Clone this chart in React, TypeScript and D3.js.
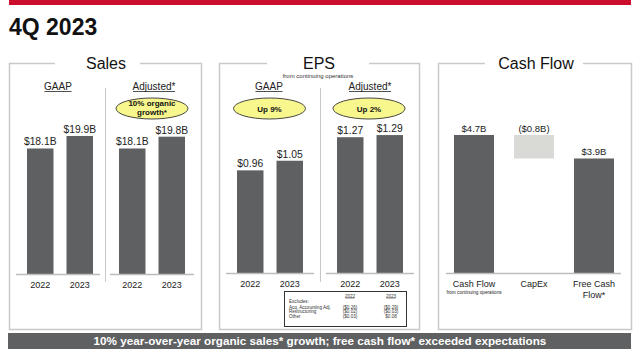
import React from "react";
import * as d3 from "d3";

const years = ["2022", "2023"];
const salesGaap = [18.1, 19.9];
const salesAdjusted = [18.1, 19.8];
const salesGaapLabels = ["$18.1B", "$19.9B"];
const salesAdjLabels = ["$18.1B", "$19.8B"];
const epsGaap = [0.96, 1.05];
const epsAdjusted = [1.27, 1.29];
const epsGaapLabels = ["$0.96", "$1.05"];
const epsAdjLabels = ["$1.27", "$1.29"];
const cashCategories = ["Cash Flow", "CapEx", "Free Cash Flow*"];
const cashValues = [4.7, -0.8, 3.9];
const cashLabels = ["$4.7B", "($0.8B)", "$3.9B"];
const excludeRows = ["Acq. Accounting Adj.", "Restructuring", "Other"];
const exclude2022 = ["($0.26)", "($0.02)", "($0.03)"];
const exclude2023 = ["($0.29)", "($0.03)", "$0.08"];

const FONT = "'Liberation Sans', Arial, Helvetica, sans-serif";
const BAR = "#5f6062";
const LIGHT = "#d9d9d6";
const BORDER = "#c9c9c9";
const RED = "#cc0e2d";
const OVAL = "#f7f78e";

type GroupProps = {
  values: number[];
  labels: string[];
  x0: number;
  x1: number;
  y: d3.ScaleLinear<number, number>;
  baseX0: number;
  baseX1: number;
};

function BarGroup({ values, labels, x0, x1, y, baseX0, baseX1 }: GroupProps) {
  const x = d3.scaleBand<string>().domain(years).range([x0, x1]).paddingInner(0.33).paddingOuter(0);
  const base = y(0);
  return (
    <g>
      {years.map((yr, i) => (
        <g key={yr}>
          <rect x={x(yr)} y={y(values[i])} width={x.bandwidth()} height={base - y(values[i])} fill={BAR} />
          <text x={(x(yr) as number) + x.bandwidth() / 2} y={y(values[i]) - 3} textAnchor="middle" fontSize={10.3} fill="#222">
            {labels[i]}
          </text>
          <text x={(x(yr) as number) + x.bandwidth() / 2} y={base + 14} textAnchor="middle" fontSize={9} fill="#222">
            {yr}
          </text>
        </g>
      ))}
      <line x1={baseX0} x2={baseX1} y1={base + 0.5} y2={base + 0.5} stroke="#bdbdbd" strokeWidth={1.5} />
    </g>
  );
}

function Panel({ x0, x1, gap0, gap1, title, cx }: { x0: number; x1: number; gap0: number; gap1: number; title: string; cx: number }) {
  const top = 63.5;
  const bottom = 329.5;
  return (
    <g>
      <path
        d={`M${gap0},${top} H${x0 + 0.5} V${bottom} H${x1 - 0.5} V${top} H${gap1}`}
        fill="none"
        stroke={BORDER}
        strokeWidth={1.5}
      />
      <text x={cx} y={69} textAnchor="middle" fontSize={16} fill="#111">
        {title}
      </text>
    </g>
  );
}

function Header({ x, text }: { x: number; text: string }) {
  const w = text === "GAAP" ? 27 : 42;
  return (
    <g>
      <text x={x} y={90} textAnchor="middle" fontSize={10} fill="#222">
        {text}
      </text>
      <line x1={x - w / 2} x2={x + w / 2} y1={91.5} y2={91.5} stroke="#222" strokeWidth={0.8} />
    </g>
  );
}

function Oval({ cx, lines }: { cx: number; lines: string[] }) {
  return (
    <g>
      <ellipse cx={cx} cy={108.5} rx={36} ry={10.5} fill={OVAL} stroke="#333" strokeWidth={0.9} />
      {lines.map((l, i) => (
        <text
          key={i}
          x={cx}
          y={lines.length === 1 ? 111.5 : 106 + i * 9}
          textAnchor="middle"
          fontSize={8}
          fontWeight="bold"
          fill="#111"
        >
          {l}
        </text>
      ))}
    </g>
  );
}

export default function App() {
  const ySales = d3.scaleLinear().domain([0, 19.9]).range([274, 136]);
  const yEps = d3.scaleLinear().domain([0, 1.3]).range([273, 134]);
  const yCash = d3.scaleLinear().domain([0, 4.7]).range([273, 135]);
  const xCash = d3.scaleBand<string>().domain(cashCategories).range([454, 614]).paddingInner(0.333).paddingOuter(0);

  // waterfall for cash flow
  let running = 0;
  const cashBars = cashValues.map((v, i) => {
    let lo: number, hi: number;
    if (i === cashValues.length - 1) {
      lo = 0;
      hi = v;
    } else if (v >= 0) {
      lo = running;
      hi = running + v;
      running += v;
    } else {
      hi = running;
      lo = running + v;
      running += v;
    }
    return { cat: cashCategories[i], lo, hi, neg: v < 0, label: cashLabels[i] };
  });

  return (
    <svg
      width={640}
      height={356}
      style={{ position: "absolute", left: 0, top: 0, background: "#fff" }}
      fontFamily={FONT}
    >
      <rect x={0} y={0} width={640} height={356} fill="#fff" />
      <rect x={9} y={0} width={622} height={5} fill={RED} />
      <text x={9} y={35} fontSize={23} fontWeight="bold" fill="#111">
        4Q 2023
      </text>

      <Panel x0={9} x1={202} gap0={55} gap1={140} title="Sales" cx={106} />
      <Panel x0={219} x1={420} gap0={267} gap1={369} title="EPS" cx={319} />
      <Panel x0={438} x1={632} gap0={485} gap1={583} title="Cash Flow" cx={536} />

      <text x={318} y={78} textAnchor="middle" fontSize={6} fill="#333">
        from continuing operations
      </text>

      {/* dividers */}
      <line x1={105.5} x2={105.5} y1={88} y2={282} stroke={BORDER} strokeWidth={1} />
      <line x1={320.5} x2={320.5} y1={88} y2={282} stroke={BORDER} strokeWidth={1} />

      <Header x={58} text="GAAP" />
      <Header x={154} text="Adjusted*" />
      <Header x={269} text="GAAP" />
      <Header x={370} text="Adjusted*" />

      <Oval cx={152} lines={["10% organic", "growth*"]} />
      <Oval cx={269.5} lines={["Up 9%"]} />
      <Oval cx={369} lines={["Up 2%"]} />

      <BarGroup values={salesGaap} labels={salesGaapLabels} x0={27} x1={93} y={ySales} baseX0={16} baseX1={100} />
      <BarGroup values={salesAdjusted} labels={salesAdjLabels} x0={119} x1={185} y={ySales} baseX0={110} baseX1={194} />
      <BarGroup values={epsGaap} labels={epsGaapLabels} x0={237} x1={303} y={yEps} baseX0={226} baseX1={314} />
      <BarGroup values={epsAdjusted} labels={epsAdjLabels} x0={337} x1={403} y={yEps} baseX0={326} baseX1={414} />

      {/* cash flow waterfall */}
      {cashBars.map((b) => {
        const bx = xCash(b.cat) as number;
        const cx = bx + xCash.bandwidth() / 2;
        return (
          <g key={b.cat}>
            <rect x={bx} y={yCash(b.hi)} width={xCash.bandwidth()} height={yCash(b.lo) - yCash(b.hi)} fill={b.neg ? LIGHT : BAR} />
            <text x={cx} y={yCash(b.hi) - 3} textAnchor="middle" fontSize={9.5} fill="#222">
              {b.label}
            </text>
          </g>
        );
      })}
      <line x1={446} x2={621} y1={273.5} y2={273.5} stroke="#bdbdbd" strokeWidth={1.5} />
      {(() => {
        const c0 = (xCash(cashCategories[0]) as number) + xCash.bandwidth() / 2;
        const c1 = (xCash(cashCategories[1]) as number) + xCash.bandwidth() / 2;
        const c2 = (xCash(cashCategories[2]) as number) + xCash.bandwidth() / 2;
        return (
          <g fill="#222" textAnchor="middle" fontSize={9}>
            <text x={c0} y={287}>Cash Flow</text>
            <text x={c0} y={293.5} fontSize={4.7}>from continuing operations</text>
            <text x={c1} y={287}>CapEx</text>
            <text x={c2} y={287}>Free Cash</text>
            <text x={c2} y={297.5}>Flow*</text>
          </g>
        );
      })()}

      {/* excludes table */}
      <rect x={284.5} y={291.5} width={122} height={35} fill="#fff" stroke="#333" strokeWidth={1} />
      <g fontSize={4.6} fill="#333">
        <text x={350} y={297.5} textAnchor="middle">2022</text>
        <line x1={345.5} x2={354.5} y1={298.3} y2={298.3} stroke="#333" strokeWidth={0.4} />
        <text x={391} y={297.5} textAnchor="middle">2023</text>
        <line x1={386.5} x2={395.5} y1={298.3} y2={298.3} stroke="#333" strokeWidth={0.4} />
        <text x={289} y={303}>Excludes:</text>
        {excludeRows.map((r, i) => (
          <g key={r}>
            <text x={289} y={308.5 + i * 4.6}>{r}</text>
            <text x={350} y={308.5 + i * 4.6} textAnchor="middle">{exclude2022[i]}</text>
            <text x={391} y={308.5 + i * 4.6} textAnchor="middle">{exclude2023[i]}</text>
          </g>
        ))}
      </g>

      {/* bottom banner */}
      <rect x={8} y={333} width={623} height={16} fill={BAR} />
      <text x={320} y={345.2} textAnchor="middle" fontSize={11.7} fontWeight="bold" fill="#fff">
        10% year-over-year organic sales* growth; free cash flow* exceeded expectations
      </text>
    </svg>
  );
}
